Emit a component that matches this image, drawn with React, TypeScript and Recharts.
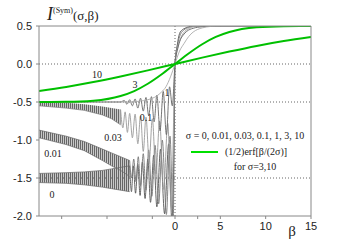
import React from 'react'
import { ComposedChart, Line, Area, XAxis, YAxis, ReferenceLine } from 'recharts'

// green curves, (1/2)erf[β/(2σ)]
const s10X = [-15, -12, -9, -6, -3, 0, 3, 6, 9, 12, 15]
const s10Y = [-0.356, -0.302, -0.238, -0.164, -0.084, 0, 0.084, 0.164, 0.238, 0.302, 0.356]
const s3X = [-15, -12, -9, -6, -4.5, -3, -1.5, 0, 1.5, 3, 4.5, 6, 9, 12, 15]
const s3Y = [-0.5, -0.498, -0.483, -0.421, -0.356, -0.26, -0.138, 0, 0.138, 0.26, 0.356, 0.421, 0.483, 0.498, 0.5]

// sigma = 1
const s1X = [-15, -5, -4, -3, -2, -1.5, -1, -0.5, 0, 0.5, 1, 1.5, 2, 2.5, 3, 4, 5, 15]
const s1Y = [-0.5, -0.5, -0.49, -0.47, -0.42, -0.37, -0.3, -0.17, 0, 0.17, 0.27, 0.36, 0.42, 0.455, 0.475, 0.495, 0.5, 0.5]

// sigma = 0.1
const s01X = [-15, -6, -5.6, -5.3, -5.0, -4.7, -4.4, -4.1, -3.8, -3.5, -3.2, -2.9, -2.6, -2.3, -2.0, -1.65, -1.3, -0.95, -0.6, -0.3, 0, 0.3, 0.6, 0.9, 1.3, 2, 3, 4, 15]
const s01Y = [-0.5, -0.5, -0.48, -0.53, -0.47, -0.55, -0.46, -0.58, -0.45, -0.62, -0.44, -0.68, -0.43, -0.76, -0.41, -0.88, -0.36, -0.93, -0.3, -0.55, 0, 0.2, 0.32, 0.38, 0.43, 0.47, 0.49, 0.5, 0.5]

// dense oscillation envelopes (beta, low, high)
const bandX = [-15, -12, -10, -8, -7, -6, -5]
const s0Lo = [-1.56, -1.57, -1.59, -1.62, -1.64, -1.66, -1.68]
const s0Hi = [-1.44, -1.43, -1.42, -1.4, -1.38, -1.36, -1.34]
const s001Lo = [-0.97, -1.06, -1.14, -1.27, -1.34, -1.4, -1.48]
const s001Hi = [-0.87, -0.95, -1.02, -1.12, -1.17, -1.22, -1.27]
const band003X = [-15, -12, -10, -8, -7, -6]
const s003Lo = [-0.55, -0.58, -0.61, -0.67, -0.72, -0.8]
const s003Hi = [-0.5, -0.51, -0.53, -0.56, -0.58, -0.6]

// resolved oscillations near beta = 0
const s0X = [-5.0, -4.8, -4.6, -4.35, -4.1, -3.85, -3.6, -3.3, -3.0, -2.7, -2.35, -2.0, -1.6, -1.15, -0.7, -0.35, -0.1, 0, 0.25, 0.5, 0.8, 1.1, 1.5, 2, 15]
const s0Y = [-1.34, -1.68, -1.34, -1.7, -1.32, -1.73, -1.29, -1.77, -1.25, -1.82, -1.2, -1.88, -1.12, -1.97, -1.05, -2.05, -1.0, 0, 0.25, 0.4, 0.45, 0.47, 0.49, 0.5, 0.5]
const s001X = [-5.0, -4.8, -4.55, -4.3, -4.05, -3.8, -3.5, -3.2, -2.9, -2.55, -2.2, -1.8, -1.4, -0.95, -0.55, -0.2, 0, 0.3, 0.6, 1, 1.5, 2.2, 15]
const s001Y = [-1.27, -1.5, -1.25, -1.55, -1.22, -1.6, -1.18, -1.66, -1.13, -1.74, -1.07, -1.84, -1.0, -1.98, -0.95, -2.1, 0, 0.26, 0.39, 0.45, 0.48, 0.5, 0.5]
const s003X = [-6.0, -5.75, -5.5, -5.25, -5.0, -4.7, -4.4, -4.1, -3.8, -3.5, -3.2, -2.85, -2.5, -2.1, -1.7, -1.25, -0.8, -0.4, 0, 0.3, 0.7, 1.1, 1.6, 2.5, 15]
const s003Y = [-0.6, -0.84, -0.63, -0.9, -0.65, -0.97, -0.66, -1.05, -0.68, -1.15, -0.7, -1.28, -0.72, -1.45, -0.75, -1.65, -0.78, -1.9, 0, 0.22, 0.36, 0.43, 0.47, 0.5, 0.5]

const xTicks = [-15, -12.5, -10, -7.5, -5, -2.5, 0, 2.5, 5, 7.5, 10, 12.5, 15]
const yTicks = [-2, -1.75, -1.5, -1.25, -1, -0.75, -0.5, -0.25, 0, 0.25, 0.5]

const pts = (xs: number[], ys: number[]) => xs.map((b, i) => ({ b, v: ys[i] }))
const band = (xs: number[], lo: number[], hi: number[]) => xs.map((b, i) => ({ b, r: [lo[i], hi[i]], lo: lo[i], hi: hi[i] }))

const XTick = (props: any) => {
    const { x, y, payload } = props
    if (payload.value % 5 !== 0) return null
    return <text x={x} y={y + 9} textAnchor="middle" fontSize={11} fill="#222" fontFamily="Liberation Sans">{payload.value}</text>
}
const YTick = (props: any) => {
    const { x, y, payload } = props
    if (Math.abs(payload.value * 2 - Math.round(payload.value * 2)) > 1e-6) return null
    return <text x={x - 2} y={y + 4} textAnchor="end" fontSize={11} fill="#222" fontFamily="Liberation Sans">{payload.value.toFixed(1)}</text>
}

const lab = (x: number, y: number, size = 10): React.CSSProperties => ({
    position: 'absolute', left: x, top: y, transform: 'translate(-50%,-50%)', fontSize: size,
    fontFamily: 'Liberation Serif', color: '#222', whiteSpace: 'nowrap', lineHeight: 1,
})

const App = () => {
    const ax = { stroke: '#888' }
    return (
        <div style={{ position: 'absolute', left: 0, top: 0, width: 354, height: 246, background: '#fff' }}>
            <svg width={0} height={0} style={{ position: 'absolute' }}>
                <defs>
                    <pattern id="osc" width={2} height={2} patternUnits="userSpaceOnUse">
                        <rect width={2} height={2} fill="#c8c8c8" />
                        <rect width={1} height={2} fill="#666" />
                    </pattern>
                </defs>
            </svg>
            <ComposedChart width={354} height={246} margin={{ top: 24, right: 39, bottom: 8, left: 0 }}>
                <XAxis xAxisId="b" dataKey="b" type="number" domain={[-15, 15]} ticks={xTicks} tick={<XTick />}
                    tickSize={3} height={22} axisLine={ax} tickLine={ax} allowDataOverflow />
                <XAxis xAxisId="t" orientation="top" dataKey="b" type="number" domain={[-15, 15]} ticks={xTicks} tick={false}
                    tickSize={3} height={2} axisLine={ax} tickLine={ax} />
                <YAxis yAxisId="l" type="number" domain={[-2, 0.5]} ticks={yTicks} tick={<YTick />} width={39}
                    tickSize={3} axisLine={ax} tickLine={ax} allowDataOverflow />
                <YAxis yAxisId="r" orientation="right" type="number" domain={[-2, 0.5]} ticks={yTicks} tick={false} width={4}
                    tickSize={3} axisLine={ax} tickLine={ax} />
                <ReferenceLine xAxisId="b" yAxisId="l" y={0} stroke="#666" strokeDasharray="1 2" />
                <ReferenceLine xAxisId="b" yAxisId="l" y={-0.5} stroke="#666" strokeDasharray="1 2" />
                <ReferenceLine xAxisId="b" yAxisId="l" y={-1.5} stroke="#666" strokeDasharray="1 2" />
                <ReferenceLine xAxisId="b" yAxisId="l" x={0} stroke="#666" strokeDasharray="1 2" />

                <Area xAxisId="b" yAxisId="l" data={band(bandX, s0Lo, s0Hi)} dataKey="r" type="linear" fill="url(#osc)" fillOpacity={1} stroke="none" isAnimationActive={false} />
                <Line xAxisId="b" yAxisId="l" data={band(bandX, s0Lo, s0Hi)} dataKey="lo" stroke="#666" strokeWidth={0.7} dot={false} isAnimationActive={false} />
                <Line xAxisId="b" yAxisId="l" data={band(bandX, s0Lo, s0Hi)} dataKey="hi" stroke="#666" strokeWidth={0.7} dot={false} isAnimationActive={false} />
                <Area xAxisId="b" yAxisId="l" data={band(bandX, s001Lo, s001Hi)} dataKey="r" type="linear" fill="url(#osc)" fillOpacity={1} stroke="none" isAnimationActive={false} />
                <Line xAxisId="b" yAxisId="l" data={band(bandX, s001Lo, s001Hi)} dataKey="lo" stroke="#666" strokeWidth={0.7} dot={false} isAnimationActive={false} />
                <Line xAxisId="b" yAxisId="l" data={band(bandX, s001Lo, s001Hi)} dataKey="hi" stroke="#666" strokeWidth={0.7} dot={false} isAnimationActive={false} />
                <Area xAxisId="b" yAxisId="l" data={band(band003X, s003Lo, s003Hi)} dataKey="r" type="linear" fill="url(#osc)" fillOpacity={1} stroke="none" isAnimationActive={false} />
                <Line xAxisId="b" yAxisId="l" data={band(band003X, s003Lo, s003Hi)} dataKey="lo" stroke="#777" strokeWidth={0.7} dot={false} isAnimationActive={false} />

                <Line xAxisId="b" yAxisId="l" data={pts(s0X, s0Y)} dataKey="v" type="monotone" stroke="#555" strokeWidth={0.9} dot={false} isAnimationActive={false} />
                <Line xAxisId="b" yAxisId="l" data={pts(s001X, s001Y)} dataKey="v" type="monotone" stroke="#777" strokeWidth={0.9} dot={false} isAnimationActive={false} />
                <Line xAxisId="b" yAxisId="l" data={pts(s003X, s003Y)} dataKey="v" type="monotone" stroke="#999" strokeWidth={0.9} dot={false} isAnimationActive={false} />
                <Line xAxisId="b" yAxisId="l" data={pts(s01X, s01Y)} dataKey="v" type="monotone" stroke="#666" strokeWidth={0.9} dot={false} isAnimationActive={false} />
                <Line xAxisId="b" yAxisId="l" data={pts(s1X, s1Y)} dataKey="v" type="monotone" stroke="#aaa" strokeWidth={0.9} dot={false} isAnimationActive={false} />
                <Line xAxisId="b" yAxisId="l" data={pts(s3X, s3Y)} dataKey="v" type="monotone" stroke="#00c000" strokeWidth={2} dot={false} isAnimationActive={false} />
                <Line xAxisId="b" yAxisId="l" data={pts(s10X, s10Y)} dataKey="v" type="monotone" stroke="#00c000" strokeWidth={2} dot={false} isAnimationActive={false} />
            </ComposedChart>

            <div style={{ position: 'absolute', left: 47, top: 5, fontFamily: 'Liberation Serif', color: '#222', whiteSpace: 'nowrap', lineHeight: 1 }}>
                <span style={{ fontSize: 18, fontStyle: 'italic' }}>I</span>
                <span style={{ fontSize: 8, verticalAlign: 7 }}>(Sym)</span>
                <span style={{ fontSize: 13 }}>(σ,β)</span>
            </div>
            <div style={lab(97, 75)}>10</div>
            <div style={lab(135, 85)}>3</div>
            <div style={lab(167, 93)}>1</div>
            <div style={lab(146, 118)}>0.1</div>
            <div style={lab(113, 138)}>0.03</div>
            <div style={lab(53, 154)}>0.01</div>
            <div style={lab(52, 195)}>0</div>
            <div style={lab(245, 136)}>σ = 0, 0.01, 0.03, 0.1, 1, 3, 10</div>
            <div style={{ position: 'absolute', left: 191, top: 151, width: 27, height: 2, background: '#00e000' }} />
            <div style={lab(256, 152)}>(1/2)erf[β/(2σ)]</div>
            <div style={lab(255, 167)}>for σ=3,10</div>
            <div style={lab(292, 231, 15)}>β</div>
        </div>
    )
}

export default App
